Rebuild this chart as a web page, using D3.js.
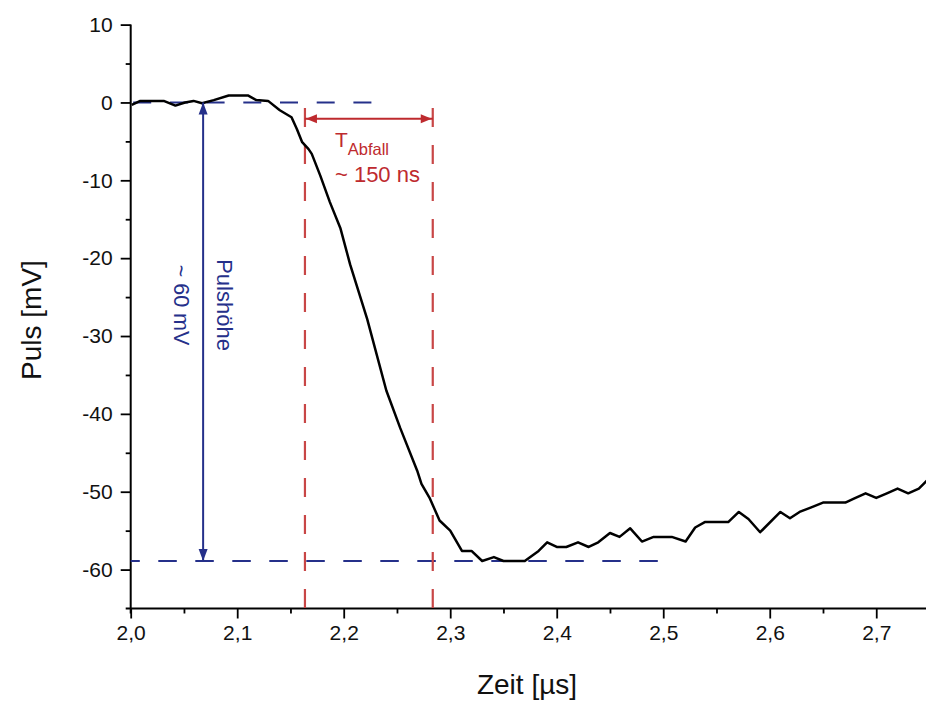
<!DOCTYPE html>
<html>
<head>
<meta charset="utf-8">
<script src="https://cdn.jsdelivr.net/npm/d3@7/dist/d3.min.js"></script>
<style>
  html, body { margin: 0; padding: 0; background: #fff; }
  svg { display: block; font-family: "Liberation Sans", Arial, sans-serif; }
</style>
</head>
<body>
<svg id="chart" width="926" height="702"></svg>
<script>
// Pulse trace: time in µs, amplitude in mV
const timeUs = [
  2.001, 2.009, 2.031, 2.042, 2.051, 2.059, 2.067, 2.078, 2.092, 2.110,
  2.118, 2.129, 2.140, 2.151, 2.156, 2.161, 2.167, 2.170, 2.178, 2.187,
  2.197, 2.206, 2.222, 2.240, 2.253, 2.269, 2.273, 2.281, 2.290, 2.300,
  2.311, 2.320, 2.330, 2.341, 2.350, 2.370, 2.383, 2.391, 2.400, 2.409,
  2.420, 2.430, 2.439, 2.450, 2.459, 2.469, 2.480, 2.491, 2.508, 2.521,
  2.530, 2.539, 2.561, 2.571, 2.580, 2.591, 2.610, 2.619, 2.628, 2.639,
  2.650, 2.671, 2.679, 2.690, 2.700, 2.710, 2.720, 2.730, 2.740, 2.748
];
const pulseMv = [
  -0.3, 0.2, 0.2, -0.4, 0.0, 0.2, -0.1, 0.3, 0.9, 0.9,
  0.3, 0.2, -1.0, -1.9, -3.4, -5.1, -6.0, -6.6, -9.4, -12.8,
  -16.2, -20.8, -27.8, -37.0, -41.8, -47.3, -49.0, -50.9, -53.7, -55.0,
  -57.6, -57.6, -58.9, -58.4, -58.9, -58.9, -57.6, -56.5, -57.1, -57.1,
  -56.5, -57.1, -56.5, -55.3, -55.8, -54.7, -56.4, -55.8, -55.8, -56.4,
  -54.6, -53.9, -53.9, -52.6, -53.5, -55.2, -52.6, -53.4, -52.6, -52.0,
  -51.4, -51.4, -50.9, -50.2, -50.8, -50.2, -49.6, -50.2, -49.6, -48.5
];

// Axis ticks
const xTicks = [2.0, 2.1, 2.2, 2.3, 2.4, 2.5, 2.6, 2.7];
const xMinorTicks = [2.05, 2.15, 2.25, 2.35, 2.45, 2.55, 2.65, 2.75];
const yTicks = [-60, -50, -40, -30, -20, -10, 0, 10];
const yMinorTicks = [-55, -45, -35, -25, -15, -5, 5];

// Annotation values
const baselineMv = 0;
const pulseMinMv = -58.9;
const baselineLineEndUs = 2.227;
const minLineEndUs = 2.495;
const heightArrowUs = 2.068;
const fallStartUs = 2.1636;
const fallEndUs = 2.2836;
const fallArrowMv = -2.1;
const fallLineTopMv = -0.7;
const fallLabel = "T";
const fallLabelSub = "Abfall";
const fallValueLabel = "~ 150 ns";
const heightLabel = "Pulshöhe";
const heightValueLabel = "~ 60 mV";
const xTitle = "Zeit [µs]";
const yTitle = "Puls [mV]";

const svg = d3.select("#chart");
svg.append("rect").attr("width", 926).attr("height", 702).attr("fill", "#fff");

const x = d3.scaleLinear().domain([2.0, 2.75]).range([130.7, 929.5]);
const y = d3.scaleLinear().domain([-65, 10]).range([608.5, 24.6]);

const BLUE = "#25308a";
const RED = "#be2a2e";
const RED_DASH = "#c84646";

// Axes
const axisFont = 21;
const yAxis = svg.append("g").attr("transform", `translate(${x(2.0)},0)`)
  .call(d3.axisLeft(y).tickValues(yTicks).tickSize(10).tickPadding(8)
    .tickFormat(d => String(d)));
const yMinor = svg.append("g").attr("transform", `translate(${x(2.0)},0)`)
  .call(d3.axisLeft(y).tickValues(yMinorTicks).tickSize(5).tickFormat(""));
const xAxis = svg.append("g").attr("transform", `translate(0,${y(-65)})`)
  .call(d3.axisBottom(x).tickValues(xTicks).tickSize(10).tickPadding(7)
    .tickFormat(d => d.toFixed(1).replace(".", ",")));
const xMinor = svg.append("g").attr("transform", `translate(0,${y(-65)})`)
  .call(d3.axisBottom(x).tickValues(xMinorTicks).tickSize(5).tickFormat(""));

[yAxis, yMinor, xAxis, xMinor].forEach(g => {
  g.select(".domain").remove();
  g.selectAll(".tick line").attr("stroke", "#000").attr("stroke-width", 1.8);
  g.selectAll(".tick text").attr("fill", "#111").attr("font-size", axisFont)
    .attr("font-family", "Liberation Sans, Arial, sans-serif");
});

// axis lines, slightly overrunning the corner
svg.append("line")
  .attr("x1", x(2.0)).attr("x2", x(2.0))
  .attr("y1", y(10)).attr("y2", y(-65) + 5)
  .attr("stroke", "#000").attr("stroke-width", 2);
svg.append("line")
  .attr("x1", x(2.0) - 5).attr("x2", 926)
  .attr("y1", y(-65)).attr("y2", y(-65))
  .attr("stroke", "#000").attr("stroke-width", 2);

// Axis titles
svg.append("text")
  .attr("x", 527).attr("y", 694)
  .attr("text-anchor", "middle").attr("font-size", 28).attr("fill", "#111")
  .text(xTitle);
svg.append("text")
  .attr("transform", "translate(41,320) rotate(-90)")
  .attr("text-anchor", "middle").attr("font-size", 28).attr("fill", "#111")
  .text(yTitle);

// Blue dashed reference lines (baseline and minimum)
svg.append("line")
  .attr("x1", x(2.0)).attr("x2", x(baselineLineEndUs))
  .attr("y1", y(baselineMv)).attr("y2", y(baselineMv))
  .attr("stroke", BLUE).attr("stroke-width", 2)
  .attr("stroke-dasharray", "18,18.7").attr("stroke-dashoffset", 34.2);
svg.append("line")
  .attr("x1", x(2.0)).attr("x2", x(minLineEndUs))
  .attr("y1", y(pulseMinMv)).attr("y2", y(pulseMinMv))
  .attr("stroke", BLUE).attr("stroke-width", 2)
  .attr("stroke-dasharray", "18.5,18.5").attr("stroke-dashoffset", 9.4);

// Red dashed fall-time bounds
[fallStartUs, fallEndUs].forEach(t => {
  svg.append("line")
    .attr("x1", x(t)).attr("x2", x(t))
    .attr("y1", y(fallLineTopMv)).attr("y2", y(-65))
    .attr("stroke", RED_DASH).attr("stroke-width", 2.2)
    .attr("stroke-dasharray", "19,18");
});

// Pulse trace
svg.append("path")
  .datum(d3.zip(timeUs, pulseMv))
  .attr("fill", "none").attr("stroke", "#000").attr("stroke-width", 2.5)
  .attr("stroke-linejoin", "round")
  .attr("d", d3.line().x(d => x(d[0])).y(d => y(d[1])));

// Arrowhead helper: triangle with tip at (tx,ty) pointing along (dx,dy)
function arrowHead(g, tx, ty, dx, dy, len, half, color) {
  const px = -dy, py = dx;
  const bx = tx - dx * len, by = ty - dy * len;
  g.append("path")
    .attr("d", `M${tx},${ty}L${bx + px * half},${by + py * half}L${bx - px * half},${by - py * half}Z`)
    .attr("fill", color);
}

// Fall-time arrow
const fa = svg.append("g");
const fy = y(fallArrowMv);
fa.append("line")
  .attr("x1", x(fallStartUs)).attr("x2", x(fallEndUs))
  .attr("y1", fy).attr("y2", fy)
  .attr("stroke", RED).attr("stroke-width", 2);
arrowHead(fa, x(fallStartUs) + 1, fy, -1, 0, 11, 4.5, RED);
arrowHead(fa, x(fallEndUs) - 1, fy, 1, 0, 11, 4.5, RED);

// Pulse-height arrow
const ha = svg.append("g");
ha.append("line")
  .attr("x1", x(heightArrowUs)).attr("x2", x(heightArrowUs))
  .attr("y1", y(baselineMv)).attr("y2", y(pulseMinMv))
  .attr("stroke", BLUE).attr("stroke-width", 2);
arrowHead(ha, x(heightArrowUs), y(baselineMv), 0, -1, 12, 4.5, BLUE);
arrowHead(ha, x(heightArrowUs), y(pulseMinMv), 0, 1, 12, 4.5, BLUE);

// Fall-time labels
const tl = svg.append("text")
  .attr("x", x(fallStartUs) + 30).attr("y", 147)
  .attr("fill", RED).attr("font-size", 21);
tl.append("tspan").text(fallLabel);
tl.append("tspan").attr("dy", 8).attr("font-size", 16.5).text(fallLabelSub);
svg.append("text")
  .attr("x", x(fallStartUs) + 30).attr("y", 182)
  .attr("fill", RED).attr("font-size", 22)
  .text(fallValueLabel);

// Pulse-height labels (rotated, reading downward)
svg.append("text")
  .attr("transform", `translate(${x(heightArrowUs) + 14},305) rotate(90)`)
  .attr("text-anchor", "middle").attr("fill", BLUE).attr("font-size", 22)
  .text(heightLabel);
svg.append("text")
  .attr("transform", `translate(${x(heightArrowUs) - 29},305) rotate(90)`)
  .attr("text-anchor", "middle").attr("fill", BLUE).attr("font-size", 21.5)
  .text(heightValueLabel);
</script>
</body>
</html>
